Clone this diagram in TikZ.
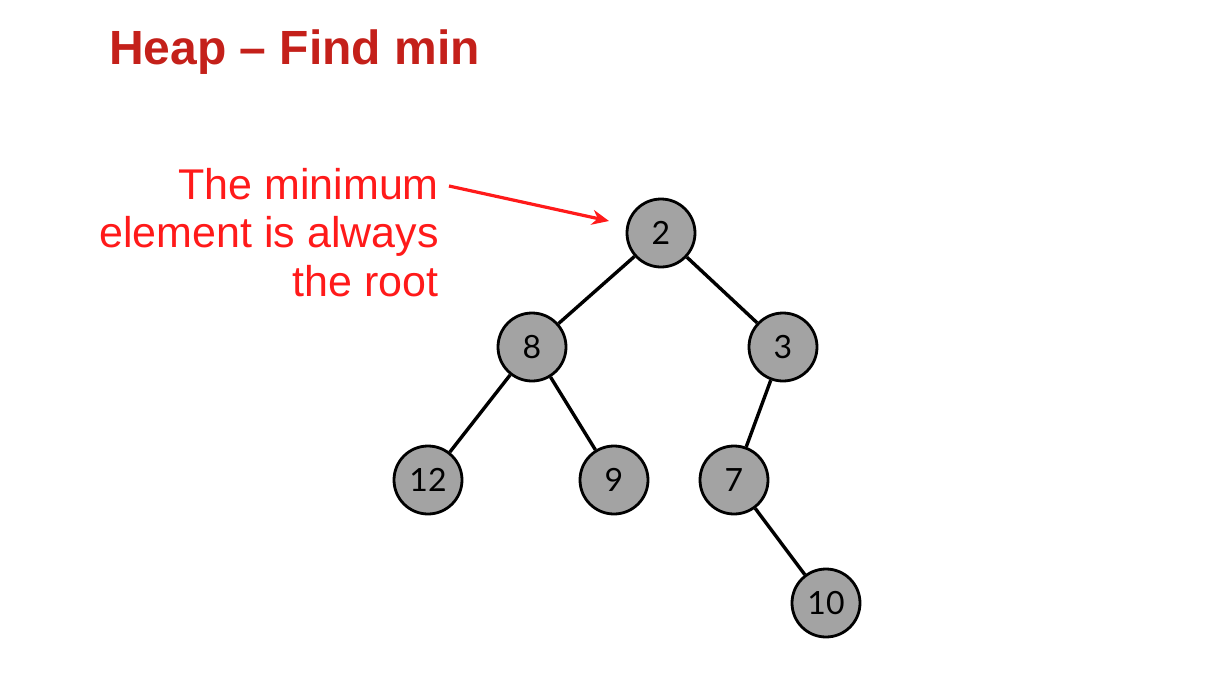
\documentclass[tikz,border=0pt]{standalone}
\usepackage{fontspec}
\setmainfont{Liberation Sans}
\newfontfamily\numfont{Lato}
\usetikzlibrary{arrows.meta}
\definecolor{titlered}{HTML}{C4201A}
\definecolor{notered}{HTML}{FF1A1A}
\definecolor{nodegray}{HTML}{A3A3A3}
\begin{document}
\begin{tikzpicture}[x=1pt,y=-1pt,
  heapnode/.style={circle,draw=black,line width=2.8pt,fill=nodegray,minimum size=68pt,inner sep=0pt,font=\numfont\fontsize{32}{32}\selectfont},
  edge/.style={line width=3.4pt,black},
  notetext/.style={text=notered,anchor=base east,inner sep=0pt,font=\fontsize{43}{48}\selectfont}]
\useasboundingbox (0,0) rectangle (1232,683);
\node[anchor=base west,inner sep=0pt,text=titlered,font=\bfseries\fontsize{48}{52}\selectfont] (title) at (109,64) {Heap -- Find min};
\node[notetext] (n1) at (439,199) {The minimum};
\node[notetext] (n2) at (439,247) {element is always};
\node[notetext] (n3) at (439,296) {the root};
\node[heapnode] (a) at (661,233) {2};
\node[heapnode] (b) at (532,347) {8};
\node[heapnode] (c) at (783,347) {3};
\node[heapnode] (d) at (428,480) {12};
\node[heapnode] (e) at (614,480) {9};
\node[heapnode] (f) at (734,480) {7};
\node[heapnode] (g) at (826,603) {10};
\draw[edge] (a) -- (b);
\draw[edge] (a) -- (c);
\draw[edge] (b) -- (d);
\draw[edge] (b) -- (e);
\draw[edge] (c) -- (f);
\draw[edge] (f) -- (g);
\coordinate (arrS) at (449,186);
\coordinate (arrE) at (609,221);
\draw[notered,line width=3.2pt,-{Stealth[length=17pt,width=15pt]}] (arrS) -- (arrE);
\end{tikzpicture}
\end{document}
